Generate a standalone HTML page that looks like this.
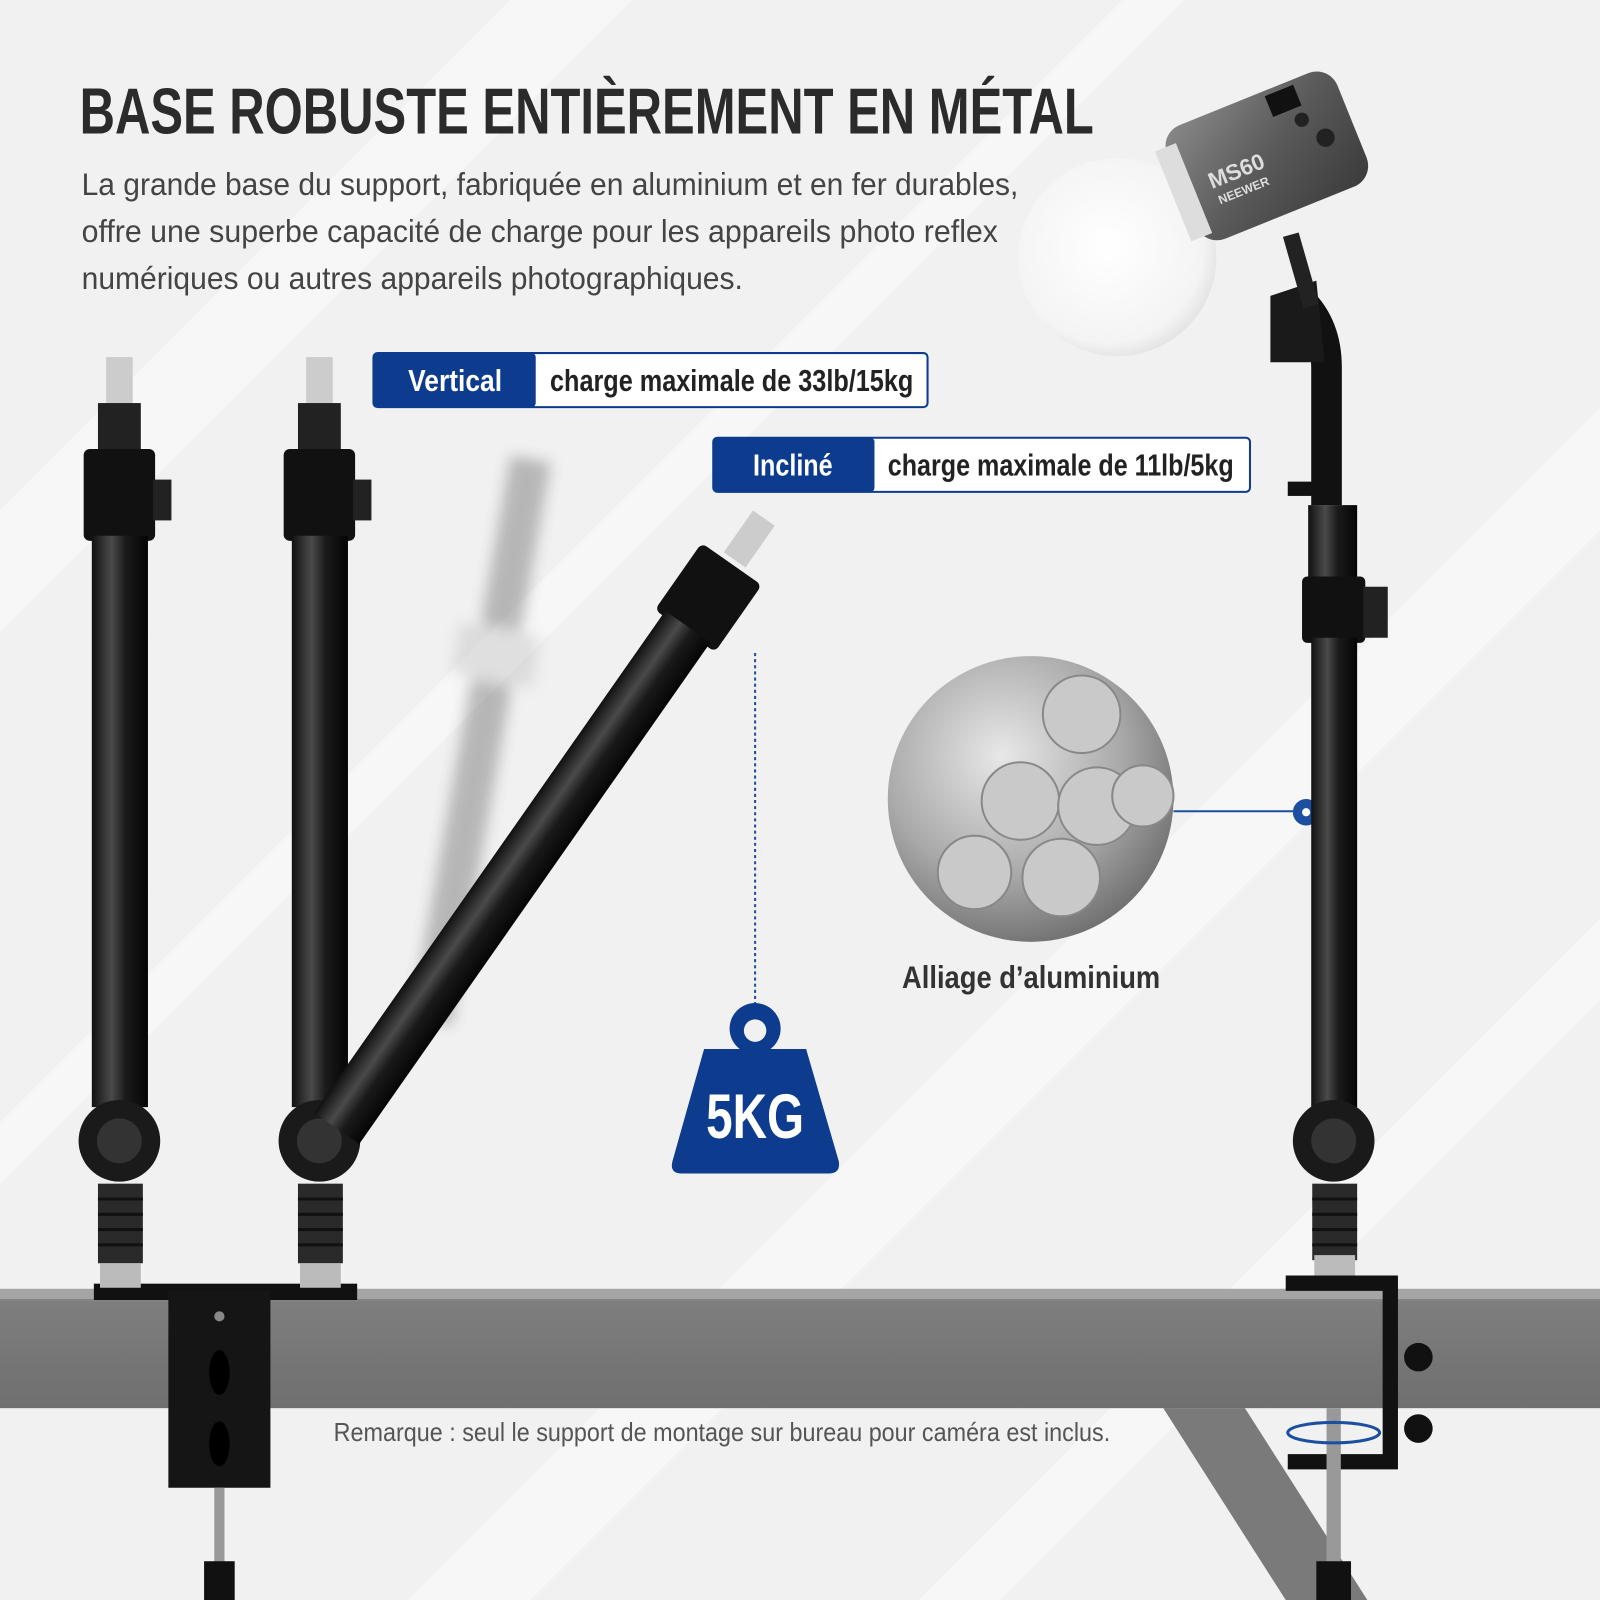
<!DOCTYPE html>
<html><head><meta charset="utf-8">
<style>
html,body{margin:0;padding:0;background:#f2f2f2}
svg{display:block}
text{font-family:"Liberation Sans",sans-serif}
</style></head>
<body>
<svg width="1600" height="1600" viewBox="0 0 1568 1568" xmlns="http://www.w3.org/2000/svg">
<defs>
<linearGradient id="rod" x1="0" x2="1" y1="0" y2="0">
<stop offset="0" stop-color="#111"/><stop offset="0.35" stop-color="#4a4a4a"/><stop offset="0.6" stop-color="#1a1a1a"/><stop offset="1" stop-color="#050505"/>
</linearGradient>
<radialGradient id="alu" cx="0.4" cy="0.35" r="0.7">
<stop offset="0" stop-color="#e8e8e8"/><stop offset="0.6" stop-color="#a9a9a9"/><stop offset="1" stop-color="#6c6c6c"/>
</radialGradient>
<radialGradient id="ball" cx="0.45" cy="0.45" r="0.6">
<stop offset="0" stop-color="#ffffff"/><stop offset="0.8" stop-color="#f4f4f4"/><stop offset="1" stop-color="#dedede"/>
</radialGradient>
<linearGradient id="body" x1="0" x2="1" y1="0" y2="1">
<stop offset="0" stop-color="#8a8a8a"/><stop offset="0.5" stop-color="#5a5a5a"/><stop offset="1" stop-color="#3a3a3a"/>
</linearGradient>
<linearGradient id="beam" x1="0" x2="0" y1="0" y2="1">
<stop offset="0" stop-color="#9a9a9a"/><stop offset="0.1" stop-color="#7e7e7e"/><stop offset="1" stop-color="#6f6f6f"/>
</linearGradient>
<filter id="blur"><feGaussianBlur stdDeviation="7"/></filter>
</defs>
<rect width="1568" height="1568" fill="#f1f1f1"/>
<g fill="#f7f7f7">
<polygon points="0,500 500,0 620,0 0,620"/>
<polygon points="400,1568 1568,400 1568,520 520,1568"/>
<polygon points="900,1568 1568,900 1568,980 980,1568"/>
<polygon points="0,1100 1100,0 1160,0 0,1160"/>
</g>

<!-- title -->
<text x="78" y="131" font-size="64" font-weight="bold" fill="#2b2b2b" textLength="994" lengthAdjust="spacingAndGlyphs">BASE ROBUSTE ENTIÈREMENT EN MÉTAL</text>
<g font-size="31" fill="#444">
<text x="80" y="191" textLength="918" lengthAdjust="spacingAndGlyphs">La grande base du support, fabriquée en aluminium et en fer durables,</text>
<text x="80" y="237" textLength="898" lengthAdjust="spacingAndGlyphs">offre une superbe capacité de charge pour les appareils photo reflex</text>
<text x="80" y="283" textLength="648" lengthAdjust="spacingAndGlyphs">numériques ou autres appareils photographiques.</text>
</g>

<!-- labels -->
<rect x="366" y="346" width="543" height="53" rx="4" fill="#fff" stroke="#0d3b8e" stroke-width="2"/>
<rect x="366" y="346" width="159" height="53" rx="4" fill="#0d3b8e"/>
<text x="446" y="383" font-size="30" font-weight="bold" fill="#fff" text-anchor="middle" textLength="92" lengthAdjust="spacingAndGlyphs">Vertical</text>
<text x="539" y="383" font-size="30" font-weight="bold" fill="#222" textLength="356" lengthAdjust="spacingAndGlyphs">charge maximale de 33lb/15kg</text>
<rect x="699" y="429" width="526" height="53" rx="4" fill="#fff" stroke="#0d3b8e" stroke-width="2"/>
<rect x="699" y="429" width="158" height="53" rx="4" fill="#0d3b8e"/>
<text x="777" y="466" font-size="30" font-weight="bold" fill="#fff" text-anchor="middle" textLength="78" lengthAdjust="spacingAndGlyphs">Incliné</text>
<text x="870" y="466" font-size="30" font-weight="bold" fill="#222" textLength="339" lengthAdjust="spacingAndGlyphs">charge maximale de 11lb/5kg</text>

<!-- table -->
<polygon points="1140,1380 1220,1380 1340,1568 1260,1568" fill="#7a7a7a"/>
<rect x="0" y="1265" width="1568" height="115" fill="url(#beam)"/>
<rect x="0" y="1263" width="1568" height="10" fill="#a5a5a5"/>
<text x="327" y="1412" font-size="25" fill="#555" textLength="761" lengthAdjust="spacingAndGlyphs">Remarque : seul le support de montage sur bureau pour caméra est inclus.</text>

<!-- left clamp -->
<rect x="92" y="1258" width="258" height="16" fill="#111"/>
<rect x="165" y="1265" width="100" height="193" fill="#151515"/>
<circle cx="215" cy="1290" r="5" fill="#888"/>
<ellipse cx="215" cy="1345" rx="10" ry="22" fill="#000"/>
<ellipse cx="215" cy="1415" rx="10" ry="22" fill="#000"/>
<rect x="210" y="1458" width="10" height="75" fill="#999"/>
<rect x="200" y="1530" width="30" height="38" fill="#111"/>

<!-- ghost pole -->
<g filter="url(#blur)" opacity="0.3">
<g transform="translate(520 450) rotate(10)">
<rect x="-20" y="0" width="40" height="560" fill="#333"/>
<rect x="-40" y="170" width="80" height="50" fill="#aaa"/>
</g>
</g>

<!-- pole 1 & 2 -->
<g id="p">
<rect x="104" y="350" width="26" height="50" fill="#ccc"/>
<rect x="96" y="395" width="42" height="50" fill="#222"/>
<rect x="82" y="440" width="70" height="90" rx="6" fill="#111"/>
<rect x="150" y="470" width="18" height="40" fill="#222"/>
<rect x="90" y="525" width="55" height="560" fill="url(#rod)"/>
<circle cx="117" cy="1118" r="40" fill="#1a1a1a"/>
<circle cx="117" cy="1118" r="22" fill="#333"/>
<rect x="96" y="1160" width="44" height="78" fill="#2a2a2a"/>
<g stroke="#111" stroke-width="3"><line x1="96" y1="1175" x2="140" y2="1175"/><line x1="96" y1="1190" x2="140" y2="1190"/><line x1="96" y1="1205" x2="140" y2="1205"/><line x1="96" y1="1220" x2="140" y2="1220"/></g>
<rect x="98" y="1238" width="40" height="24" fill="#bbb"/>
</g>
<use href="#p" transform="translate(196 0)"/>

<!-- tilted pole -->
<g transform="translate(740 520) rotate(35)">
<rect x="-13" y="-15" width="26" height="50" fill="#ccc"/>
<rect x="-36" y="40" width="72" height="80" rx="6" fill="#111"/>
<rect x="-27" y="115" width="54" height="600" fill="url(#rod)"/>
</g>

<!-- dotted + weight -->
<line x1="740" y1="640" x2="740" y2="985" stroke="#1d4fa0" stroke-width="2" stroke-dasharray="3 3"/>
<circle cx="740" cy="1008" r="25" fill="#0d3b8e"/>
<circle cx="740" cy="1010" r="11" fill="#f1f1f1"/>
<path d="M690 1028 L790 1028 L822 1138 Q824 1150 812 1150 L668 1150 Q656 1150 659 1138 Z" fill="#0d3b8e"/>
<text x="740" y="1115" font-size="62" font-weight="bold" fill="#fff" text-anchor="middle" textLength="96" lengthAdjust="spacingAndGlyphs">5KG</text>

<!-- aluminium -->
<circle cx="1010" cy="783" r="140" fill="url(#alu)"/>
<g fill="#c9c9c9" stroke="#888" stroke-width="2">
<circle cx="1060" cy="700" r="38"/><circle cx="1000" cy="785" r="38"/><circle cx="1075" cy="790" r="38"/>
<circle cx="955" cy="855" r="36"/><circle cx="1040" cy="860" r="38"/><circle cx="1120" cy="780" r="30"/>
</g>
<text x="884" y="968" font-size="31" font-weight="bold" fill="#333" textLength="253" lengthAdjust="spacingAndGlyphs">Alliage d’aluminium</text>
<line x1="1150" y1="795" x2="1280" y2="795" stroke="#1d4fa0" stroke-width="2"/>
<circle cx="1280" cy="796" r="13" fill="#1d4fa0"/><circle cx="1280" cy="796" r="4" fill="#fff"/>

<!-- right pole -->
<rect x="1282" y="495" width="48" height="80" fill="url(#rod)"/>
<rect x="1276" y="565" width="62" height="65" rx="5" fill="#111"/>
<rect x="1336" y="575" width="24" height="50" fill="#222"/>
<rect x="1285" y="625" width="45" height="460" fill="url(#rod)"/>
<path d="M1300 495 L1300 360 Q1300 320 1275 295" stroke="#111" stroke-width="30" fill="none"/>
<rect x="1262" y="472" width="38" height="14" fill="#111"/>
<circle cx="1307" cy="1118" r="40" fill="#1a1a1a"/><circle cx="1307" cy="1118" r="22" fill="#333"/>
<rect x="1286" y="1160" width="44" height="75" fill="#2a2a2a"/>
<g stroke="#111" stroke-width="3"><line x1="1286" y1="1175" x2="1330" y2="1175"/><line x1="1286" y1="1190" x2="1330" y2="1190"/><line x1="1286" y1="1205" x2="1330" y2="1205"/><line x1="1286" y1="1220" x2="1330" y2="1220"/></g>
<rect x="1288" y="1230" width="40" height="25" fill="#bbb"/>
<path d="M1260 1250 L1370 1250 L1370 1440 L1262 1440 L1262 1425 L1355 1425 L1355 1265 L1260 1265 Z" fill="#111"/>
<circle cx="1390" cy="1330" r="14" fill="#111"/><circle cx="1390" cy="1400" r="14" fill="#111"/>
<rect x="1300" y="1380" width="14" height="188" fill="#999"/>
<ellipse cx="1307" cy="1404" rx="45" ry="10" fill="none" stroke="#1d4fa0" stroke-width="3"/>
<rect x="1290" y="1530" width="34" height="38" fill="#111"/>

<!-- light -->
<circle cx="1095" cy="252" r="97" fill="url(#ball)"/>
<path d="M1245 290 L1290 275 L1298 355 L1245 355 Z" fill="#1a1a1a"/>
<path d="M1265 230 L1285 300" stroke="#222" stroke-width="16"/>
<g transform="rotate(-22 1235 150)">
<rect x="1150" y="95" width="180" height="120" rx="22" fill="url(#body)"/>
<rect x="1140" y="110" width="22" height="95" fill="#ddd"/>
<rect x="1260" y="100" width="30" height="22" fill="#111"/>
<circle cx="1300" cy="160" r="9" fill="#222"/><circle cx="1285" cy="135" r="7" fill="#222"/>
<text x="1178" y="165" font-size="22" font-weight="bold" fill="#ddd">MS60</text>
<text x="1180" y="182" font-size="12" font-weight="bold" fill="#ddd">NEEWER</text>
</g>
</svg>
</body></html>
